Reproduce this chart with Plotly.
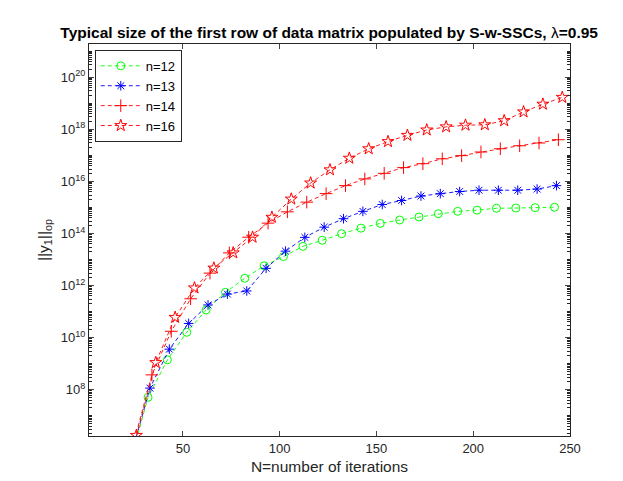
import plotly.graph_objects as go

# --- DATA ---
n_labels = ["n=12", "n=13", "n=14", "n=16"]

iters_n12 = [22, 32, 42, 52, 62, 72, 82, 92, 102, 112, 122, 132, 142, 152, 162, 172, 182, 192, 202, 212, 222, 232, 242]
iters_n13 = [23, 33, 43, 53, 63, 73, 83, 93, 103, 113, 123, 133, 143, 153, 163, 173, 183, 193, 203, 213, 223, 233, 243]
iters_n14 = [24, 34, 44, 54, 64, 74, 84, 94, 104, 114, 124, 134, 144, 154, 164, 174, 184, 194, 204, 214, 224, 234, 244]
iters_n16 = [26, 36, 46, 56, 66, 76, 86, 96, 106, 116, 126, 136, 146, 156, 166, 176, 186, 196, 206, 216, 226, 236, 246]

norm_n12 = [1.0e5, 5.1e7, 1.4e9, 1.6e10, 1.15e11, 5.5e11, 1.9e12, 5.75e12, 1.3e13, 3.2e13, 5.5e13, 9.8e13,
            1.6e14, 2.45e14, 3.3e14, 4.3e14, 5.75e14, 7.1e14, 7.9e14, 9.3e14, 9.5e14, 9.8e14, 1.02e15]
norm_n13 = [2.5e5, 1.15e8, 3.6e9, 3.5e10, 1.8e11, 4.7e11, 6.2e11, 4.6e12, 2.1e13, 7.1e13, 1.75e14, 3.7e14,
            7.1e14, 1.3e15, 1.85e15, 2.75e15, 3.4e15, 4.1e15, 4.6e15, 4.6e15, 4.6e15, 5.1e15, 6.9e15]
norm_n14 = [6.3e5, 3.7e8, 1.75e10, 3.1e11, 3.0e12, 1.8e13, 7.2e13, 2.5e14, 6.8e14, 1.6e15, 3.4e15, 6.9e15,
            1.25e16, 2.05e16, 3.4e16, 4.8e16, 7.4e16, 9.8e16, 1.35e17, 1.8e17, 2.35e17, 3.0e17, 4.0e17]
norm_n16 = [1.75e6, 1.1e9, 6.0e10, 8.1e11, 4.7e12, 1.8e13, 7.2e13, 4.2e14, 2.1e15, 8.7e15, 2.8e16, 7.8e16,
            1.8e17, 3.4e17, 5.9e17, 9.5e17, 1.25e18, 1.45e18, 1.5e18, 2.15e18, 4.7e18, 9.3e18, 1.7e19]

x_ticks = [50, 100, 150, 200, 250]
y_tick_exps = [8, 10, 12, 14, 16, 18, 20]

# --- STYLE per series ---
series = [
    (iters_n12, norm_n12, "#00ff00", "circle-open", 8),
    (iters_n13, norm_n13, "#0000ff", "asterisk-open", 8),
    (iters_n14, norm_n14, "#ff0000", "cross-thin-open", 9),
    (iters_n16, norm_n16, "#ff0000", "star-open", 9),
]

fig = go.Figure()
for name, (xs, ys, col, sym, size) in zip(n_labels, series):
    fig.add_trace(go.Scatter(
        x=xs, y=ys, mode="lines+markers", name=name,
        line=dict(color=col, width=0.9, dash="4px,3px"),
        marker=dict(symbol=sym, size=size, color=col, line=dict(color=col, width=1)),
    ))

axis_col = "#262626"
font_main = "Liberation Sans, Arial, sans-serif"

fig.update_layout(
    width=623, height=481,
    margin=dict(l=81, r=61, t=36, b=53),
    paper_bgcolor="white", plot_bgcolor="white",
    font=dict(family=font_main, size=13, color=axis_col),
    title=dict(
        text="<b>Typical size of the first row of data matrix populated by S-w-SSCs, </b>λ<b>=0.95</b>",
        x=0.5155, xanchor="center", y=1 - 25 / 481, yanchor="middle",
        font=dict(size=15.5, color="black"),
    ),
    showlegend=True,
    legend=dict(
        x=0.012, y=0.985, xanchor="left", yanchor="top",
        bgcolor="white", bordercolor=axis_col, borderwidth=1,
        font=dict(size=13, color="black"),
        tracegroupgap=0, itemwidth=40,
    ),
)

fig.update_xaxes(
    range=[1.5, 250], tickvals=x_ticks, ticks="inside", ticklen=5,
    showline=True, linecolor=axis_col, linewidth=1, mirror="ticks",
    showgrid=False, zeroline=False,
    title=dict(text="N=number of iterations", standoff=6, font=dict(size=15.5)),
)
fig.update_yaxes(
    type="log", range=[6.22, 21.28],
    tickvals=[10.0 ** e for e in y_tick_exps],
    ticktext=["10<sup>%d</sup>" % e for e in y_tick_exps],
    ticks="inside", ticklen=5,
    minor=dict(ticks="inside", ticklen=3, dtick="D1", tickcolor=axis_col, showgrid=False),
    showline=True, linecolor=axis_col, linewidth=1, mirror="ticks",
    showgrid=False, zeroline=False,
    title=dict(text="||y<sub>1</sub>||<sub>op</sub>", standoff=7, font=dict(size=15.5)),
)

fig.write_html("out.html")
